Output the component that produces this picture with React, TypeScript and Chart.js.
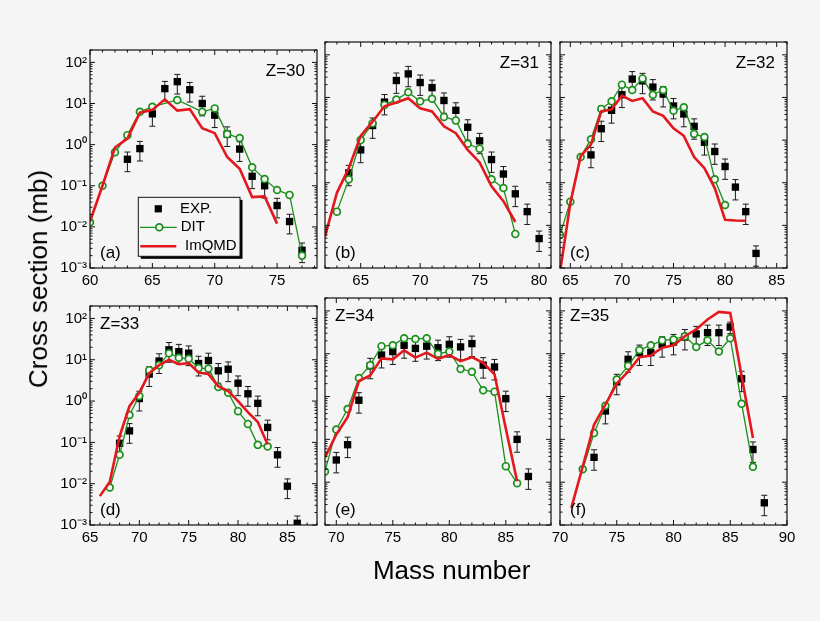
import React, { useEffect, useRef } from "react";
import { Chart, registerables } from "chart.js";

Chart.register(...registerables);

const BG = "#f5f5f5";
const GREEN = "#1b8f1b";
const RED = "#e3171d";
const FONT = "'Liberation Sans', Arial, Helvetica, sans-serif";

const yTickValues = [0.001, 0.01, 0.1, 1, 10, 100];
const yTickLabels = ["10\u207B\u00B3", "10\u207B\u00B2", "10\u207B\u00B9", "10\u2070", "10\u00B9", "10\u00B2"];

// ---- Panel (a) Z=30
const xTicksA = [60, 65, 70, 75];
const expMassA = [63, 64, 65, 66, 67, 68, 69, 70, 71, 72, 73, 74, 75, 76, 77];
const expA = [0.44, 0.8, 5.6, 23, 34, 21.7, 10, 5.2, 1.8, 0.78, 0.17, 0.1, 0.033, 0.0135, 0.0027];
const errA = [0.5, 0.5, 0.5, 0.5, 0.5, 0.5, 0.5, 0.5, 0.5, 0.5, 0.5, 0.5, 0.5, 0.5, 0.5];
const ditMassA = [60, 61, 62, 63, 64, 65, 67, 69, 70, 71, 72, 73, 74, 75, 76, 77];
const ditA = [0.013, 0.1, 0.65, 1.7, 6.3, 8.3, 12.2, 6.3, 7.6, 1.8, 1.45, 0.28, 0.145, 0.079, 0.06, 0.002];
const qmdMassA = [60, 61, 62, 63, 64, 65, 66, 67, 68, 69, 70, 71, 72, 73, 74, 75];
const qmdA = [0.0135, 0.1, 0.85, 1.4, 6, 7, 12.6, 6.7, 7.3, 2.5, 1.9, 0.5, 0.26, 0.053, 0.055, 0.012];

// ---- Panel (b) Z=31
const xTicksB = [65, 70, 75, 80];
const expMassB = [64, 65, 66, 67, 68, 69, 70, 71, 72, 73, 74, 75, 76, 77, 78, 79, 80];
const expB = [0.17, 0.59, 2.2, 7.8, 25, 35.7, 22.4, 17, 8.5, 5, 2, 0.96, 0.35, 0.16, 0.055, 0.021, 0.0049];
const errB = [0.5, 0.5, 0.5, 0.5, 0.5, 0.5, 0.5, 0.5, 0.5, 0.5, 0.5, 0.5, 0.5, 0.5, 0.5, 0.5, 0.5];
const ditMassB = [63, 64, 65, 66, 67, 68, 69, 70, 71, 72, 73, 74, 75, 76, 77, 78];
const ditB = [0.021, 0.12, 1.0, 2.5, 6.7, 8.9, 13.3, 8.1, 9.3, 3.5, 2.9, 0.82, 0.63, 0.12, 0.075, 0.0063];
const qmdMassB = [62, 63, 64, 65, 66, 67, 68, 69, 70, 71, 72, 73, 74, 75, 76, 77, 78];
const qmdB = [0.0055, 0.058, 0.22, 1.26, 2.7, 6.2, 7.6, 9.6, 5.6, 4.7, 2.1, 1.45, 0.59, 0.3, 0.082, 0.037, 0.012];

// ---- Panel (c) Z=32
const xTicksC = [65, 70, 75, 80, 85];
const expMassC = [67, 68, 69, 70, 71, 72, 73, 74, 75, 76, 77, 78, 79, 80, 81, 82, 83];
const expC = [0.45, 1.85, 5, 11.6, 27, 24.5, 17.5, 12, 6.3, 4.1, 2.1, 0.89, 0.54, 0.24, 0.079, 0.021, 0.0022];
const errC = [0.5, 0.5, 0.5, 0.5, 0.5, 0.5, 0.5, 0.5, 0.5, 0.5, 0.5, 0.5, 0.5, 0.5, 0.5, 0.5, 0.5];
const ditMassC = [64, 65, 66, 67, 68, 69, 70, 71, 72, 73, 74, 75, 76, 77, 78, 79, 80];
const ditC = [0.006, 0.036, 0.4, 1.05, 5.4, 8.1, 20, 15, 28, 11.6, 15, 4.9, 5.9, 1.4, 1.18, 0.12, 0.03];
const qmdMassC = [64, 65, 66, 67, 68, 69, 70, 71, 72, 73, 74, 75, 76, 77, 78, 79, 80, 81, 82];
const qmdC = [0.0008, 0.033, 0.42, 0.78, 4.7, 5.3, 11, 8.3, 9.6, 4.7, 3.7, 1.9, 1.26, 0.4, 0.22, 0.075, 0.0135, 0.013, 0.0128];

// ---- Panel (d) Z=33
const xTicksD = [65, 70, 75, 80, 85];
const expMassD = [68, 69, 70, 71, 72, 73, 74, 75, 76, 77, 78, 79, 80, 81, 82, 83, 84, 85, 86];
const expD = [0.095, 0.19, 1.15, 4.5, 9.3, 17.4, 15.7, 14.4, 8.1, 9.6, 5.4, 5.9, 2.7, 1.5, 0.88, 0.23, 0.05, 0.0087, 0.0011];
const errD = [0.5, 0.5, 0.5, 0.5, 0.5, 0.5, 0.5, 0.5, 0.5, 0.5, 0.5, 0.5, 0.5, 0.5, 0.5, 0.5, 0.5, 0.5, 0.5];
const ditMassD = [67, 68, 69, 70, 71, 72, 73, 74, 75, 76, 77, 78, 79, 80, 81, 82, 83];
const ditD = [0.0081, 0.05, 0.46, 1.33, 5.6, 7.4, 14.4, 11.2, 10.6, 6.3, 6.1, 2.2, 1.6, 0.57, 0.28, 0.087, 0.079];
const qmdMassD = [66, 67, 68, 69, 70, 71, 72, 73, 74, 75, 76, 77, 78, 79, 80, 81, 82, 83];
const qmdD = [0.005, 0.011, 0.14, 0.75, 1.6, 4.7, 7.4, 10, 7.8, 8.3, 4.9, 4.5, 2.3, 1.75, 1.0, 0.54, 0.31, 0.089];

// ---- Panel (e) Z=34
const xTicksE = [70, 75, 80, 85];
const expMassE = [70, 71, 72, 73, 74, 75, 76, 77, 78, 79, 80, 81, 82, 83, 84, 85, 86, 87];
const expE = [0.033, 0.075, 0.82, 5.2, 9.3, 11.2, 15.7, 13.3, 15, 13.8, 16.6, 14.4, 17.2, 5.4, 4.9, 0.89, 0.1, 0.0136];
const errE = [0.5, 0.5, 0.5, 0.5, 0.5, 0.5, 0.5, 0.5, 0.5, 0.5, 0.5, 0.5, 0.5, 0.5, 0.5, 0.5, 0.5, 0.5];
const ditMassE = [69, 70, 71, 72, 73, 74, 75, 76, 77, 78, 79, 80, 81, 82, 83, 84, 85, 86];
const ditE = [0.0178, 0.17, 0.51, 2.7, 5.4, 15, 15.7, 23, 22, 23, 10, 11.2, 4.4, 3.8, 1.4, 1.3, 0.0237, 0.0095];
const qmdMassE = [69, 70, 71, 72, 73, 74, 75, 76, 77, 78, 79, 80, 81, 82, 83, 84, 85, 86];
const qmdE = [0.038, 0.13, 0.33, 2.3, 3.1, 7.8, 7.4, 12, 8.1, 10.6, 7.6, 9.3, 6.7, 8.3, 6.1, 3.3, 0.18, 0.0105];

// ---- Panel (f) Z=35
const xTicksF = [70, 75, 80, 85, 90];
const expMassF = [73, 74, 75, 76, 77, 78, 79, 80, 81, 82, 83, 84, 85, 86, 87, 88];
const expF = [0.038, 0.46, 2.2, 7.4, 10.6, 10.6, 16.6, 18.8, 24.5, 29, 31, 31, 42, 2.6, 0.058, 0.0033];
const errF = [0.5, 0.5, 0.5, 0.5, 0.5, 0.5, 0.5, 0.5, 0.5, 0.5, 0.5, 0.5, 0.3, 0.5, 0.5, 0.5];
const ditMassF = [72, 73, 74, 75, 76, 77, 78, 79, 80, 81, 82, 83, 84, 85, 86, 87];
const ditF = [0.02, 0.14, 0.61, 2.5, 5.2, 12.2, 15.7, 20.5, 21.5, 25.6, 14.4, 20.5, 11.3, 23, 0.68, 0.023];
const qmdMassF = [71, 72, 73, 74, 75, 76, 77, 78, 79, 80, 81, 82, 83, 84, 85, 86, 87];
const qmdF = [0.0025, 0.023, 0.22, 0.65, 2.0, 3.8, 8.3, 9.1, 13.8, 15.7, 25.6, 37, 63, 95, 89, 3.0, 0.107];

type Panel = {
  z: string; tag: string; xMin: number; xMax: number; xTicks: number[];
  expMass: number[]; exp: number[]; err: number[];
  ditMass: number[]; dit: number[]; qmdMass: number[]; qmd: number[];
  col: number; row: number; legend: boolean;
};

const PANELS: Panel[] = [
  { z: "Z=30", tag: "(a)", xMin: 60, xMax: 78.2, xTicks: xTicksA, expMass: expMassA, exp: expA, err: errA, ditMass: ditMassA, dit: ditA, qmdMass: qmdMassA, qmd: qmdA, col: 0, row: 0, legend: true },
  { z: "Z=31", tag: "(b)", xMin: 62, xMax: 81, xTicks: xTicksB, expMass: expMassB, exp: expB, err: errB, ditMass: ditMassB, dit: ditB, qmdMass: qmdMassB, qmd: qmdB, col: 1, row: 0, legend: false },
  { z: "Z=32", tag: "(c)", xMin: 64, xMax: 86, xTicks: xTicksC, expMass: expMassC, exp: expC, err: errC, ditMass: ditMassC, dit: ditC, qmdMass: qmdMassC, qmd: qmdC, col: 2, row: 0, legend: false },
  { z: "Z=33", tag: "(d)", xMin: 65, xMax: 88, xTicks: xTicksD, expMass: expMassD, exp: expD, err: errD, ditMass: ditMassD, dit: ditD, qmdMass: qmdMassD, qmd: qmdD, col: 0, row: 1, legend: false },
  { z: "Z=34", tag: "(e)", xMin: 69, xMax: 89, xTicks: xTicksE, expMass: expMassE, exp: expE, err: errE, ditMass: ditMassE, dit: ditE, qmdMass: qmdMassE, qmd: qmdE, col: 1, row: 1, legend: false },
  { z: "Z=35", tag: "(f)", xMin: 70, xMax: 90, xTicks: xTicksF, expMass: expMassF, exp: expF, err: errF, ditMass: ditMassF, dit: ditF, qmdMass: qmdMassF, qmd: qmdF, col: 2, row: 1, legend: false },
];

const COL_LEFT = [90, 325, 560];
const COL_WIDTH = [227, 226, 227];
const ROW_TOP = [42, 298];
const ROW_HEIGHT = [226, 227];
const RP = 20;
const TP = 4;
const BP = 26;

function PanelChart({ p }: { p: Panel }) {
  const ref = useRef<HTMLCanvasElement | null>(null);
  const LP = p.col === 0 ? 60 : 20;
  const left = COL_LEFT[p.col] - LP;
  const top = ROW_TOP[p.row] - TP;
  const width = COL_WIDTH[p.col] + LP + RP;
  const height = ROW_HEIGHT[p.row] + TP + BP;

  useEffect(() => {
    if (!ref.current) return;
    const decor = {
      id: "decor",
      beforeDatasetsDraw(chart: any) {
        const { ctx, chartArea: a, scales } = chart;
        const xs = scales.x, ys = scales.y;
        ctx.save();
        ctx.beginPath();
        ctx.rect(a.left, a.top, a.right - a.left, a.bottom - a.top);
        ctx.clip();
        ctx.strokeStyle = "#1a1a1a";
        ctx.lineWidth = 1;
        p.expMass.forEach((m, i) => {
          const v = p.exp[i];
          const e = p.err[i];
          const x = xs.getPixelForValue(m);
          const y1 = ys.getPixelForValue(v * (1 + e));
          const y2 = ys.getPixelForValue(v * (1 - e));
          ctx.beginPath();
          ctx.moveTo(x, y1); ctx.lineTo(x, y2);
          ctx.moveTo(x - 3, y1); ctx.lineTo(x + 3, y1);
          ctx.moveTo(x - 3, y2); ctx.lineTo(x + 3, y2);
          ctx.stroke();
        });
        ctx.restore();
      },
      afterDatasetsDraw(chart: any) {
        const { ctx, chartArea: a, scales } = chart;
        const xs = scales.x, ys = scales.y;
        ctx.save();
        ctx.strokeStyle = "#111";
        ctx.lineWidth = 1.2;
        ctx.strokeRect(a.left, a.top, a.right - a.left, a.bottom - a.top);
        ctx.lineWidth = 1;
        const seg = (x1: number, y1: number, x2: number, y2: number) => {
          ctx.beginPath(); ctx.moveTo(x1, y1); ctx.lineTo(x2, y2); ctx.stroke();
        };
        for (let m = Math.ceil(xs.min); m <= Math.floor(xs.max); m++) {
          const x = xs.getPixelForValue(m);
          const len = m % 5 === 0 ? 5 : 2.5;
          seg(x, a.bottom, x, a.bottom - len);
          seg(x, a.top, x, a.top + len);
        }
        for (let d = -3; d <= 2; d++) {
          for (let k = 1; k <= 9; k++) {
            const v = k * Math.pow(10, d);
            if (v > ys.max * 1.0001) continue;
            const y = ys.getPixelForValue(v);
            const len = k === 1 ? 5 : 2.5;
            seg(a.left, y, a.left + len, y);
            seg(a.right, y, a.right - len, y);
          }
        }
        // labels
        ctx.fillStyle = "#000";
        ctx.font = `17px ${FONT}`;
        ctx.textBaseline = "middle";
        if (p.row === 0) {
          ctx.textAlign = "right";
          ctx.fillText(p.z, a.right - 12, a.top + 21.5);
        } else {
          ctx.textAlign = "left";
          ctx.fillText(p.z, a.left + 10, a.top + 18.5);
        }
        ctx.textAlign = "left";
        ctx.fillText(p.tag, a.left + 10, a.bottom - 15);

        if (p.legend) {
          const bx = a.left + 48.3, by = a.top + 147.3, bw = 101.7, bh = 59;
          ctx.fillStyle = "#000";
          ctx.fillRect(bx + 2.5, by + 2.5, bw, bh);
          ctx.fillStyle = BG;
          ctx.fillRect(bx, by, bw, bh);
          ctx.strokeStyle = "#111";
          ctx.lineWidth = 1;
          ctx.strokeRect(bx, by, bw, bh);
          // EXP
          ctx.fillStyle = "#000";
          ctx.fillRect(bx + 20 - 3.6, by + 11.5 - 3.6, 7.2, 7.2);
          ctx.font = `15px ${FONT}`;
          ctx.textBaseline = "middle";
          ctx.fillText("EXP.", bx + 41.7, by + 11.5);
          // DIT
          ctx.strokeStyle = GREEN;
          ctx.lineWidth = 1.3;
          seg(bx + 1.7, by + 30, bx + 38.4, by + 30);
          ctx.beginPath();
          ctx.arc(bx + 21, by + 30, 3.4, 0, Math.PI * 2);
          ctx.fillStyle = BG;
          ctx.fill();
          ctx.lineWidth = 1.7;
          ctx.stroke();
          ctx.fillStyle = "#000";
          ctx.fillText("DIT", bx + 42.4, by + 30);
          // ImQMD
          ctx.strokeStyle = RED;
          ctx.lineWidth = 2.6;
          seg(bx + 2, by + 49, bx + 38, by + 49);
          ctx.fillText("ImQMD", bx + 46.7, by + 49);
        }
        ctx.restore();
      },
    };

    const chart = new Chart(ref.current, {
      type: "line",
      data: {
        datasets: [
          {
            label: "EXP.",
            data: p.expMass.map((m, i) => ({ x: m, y: p.exp[i] })),
            showLine: false,
            pointStyle: "rect",
            pointRadius: 5.2,
            pointBackgroundColor: "#000",
            pointBorderColor: "#000",
            pointBorderWidth: 0,
            order: 3,
          },
          {
            label: "DIT",
            data: p.ditMass.map((m, i) => ({ x: m, y: p.dit[i] })),
            borderColor: GREEN,
            borderWidth: 1.3,
            pointStyle: "circle",
            pointRadius: 3.4,
            pointBorderWidth: 1.7,
            pointBorderColor: GREEN,
            pointBackgroundColor: BG,
            tension: 0,
            clip: 0,
            order: 2,
          },
          {
            label: "ImQMD",
            data: p.qmdMass.map((m, i) => ({ x: m, y: p.qmd[i] })),
            borderColor: RED,
            borderWidth: 2.6,
            pointRadius: 0,
            tension: 0,
            clip: 0,
            order: 1,
          },
        ],
      } as any,
      options: {
        animation: false,
        responsive: true,
        maintainAspectRatio: false,
        events: [],
        layout: { autoPadding: false, padding: { top: TP, right: RP, left: 0, bottom: 0 } },
        plugins: { legend: { display: false }, tooltip: { enabled: false } },
        scales: {
          x: {
            type: "linear",
            min: p.xMin,
            max: p.xMax,
            position: "bottom",
            grid: { display: false, drawTicks: false },
            border: { display: false },
            ticks: {
              font: { family: FONT, size: 15 },
              color: "#000",
              padding: 4,
              maxRotation: 0,
              autoSkip: false,
            },
            afterBuildTicks: (s: any) => {
              s.ticks = p.xTicks.map((v) => ({ value: v }));
            },
            afterFit: (s: any) => {
              s.height = BP;
            },
          },
          y: {
            type: "logarithmic",
            min: 0.001,
            max: 200,
            position: "left",
            grid: { display: false, drawTicks: false },
            border: { display: false },
            ticks: {
              display: p.col === 0,
              font: { family: FONT, size: 15 },
              color: "#000",
              padding: 3,
              callback: (v: any) => {
                const idx = yTickValues.indexOf(Number(v));
                return idx >= 0 ? yTickLabels[idx] : "";
              },
            },
            afterBuildTicks: (s: any) => {
              s.ticks = yTickValues.map((v) => ({ value: v }));
            },
            afterFit: (s: any) => {
              s.width = LP;
            },
          },
        },
      } as any,
      plugins: [decor as any],
    });
    return () => chart.destroy();
  }, []);

  return (
    <div style={{ position: "absolute", left, top, width, height }}>
      <canvas ref={ref} />
    </div>
  );
}

export default function App() {
  useEffect(() => {
    document.body.style.margin = "0";
    document.body.style.background = BG;
    document.body.style.overflow = "hidden";
  }, []);
  return (
    <div style={{ position: "relative", width: 820, height: 621, background: BG, overflow: "hidden", fontFamily: FONT }}>
      {PANELS.map((p) => (
        <PanelChart key={p.tag} p={p} />
      ))}
      <div
        style={{
          position: "absolute", left: 38.5, top: 279, transform: "translate(-50%, -50%) rotate(-90deg)",
          fontSize: 26, whiteSpace: "nowrap", color: "#000", lineHeight: 1.15,
        }}
      >
        Cross section (mb)
      </div>
      <div
        style={{
          position: "absolute", left: 451.7, top: 571, transform: "translate(-50%, -50%)",
          fontSize: 26, whiteSpace: "nowrap", color: "#000", lineHeight: 1.15,
        }}
      >
        Mass number
      </div>
    </div>
  );
}
